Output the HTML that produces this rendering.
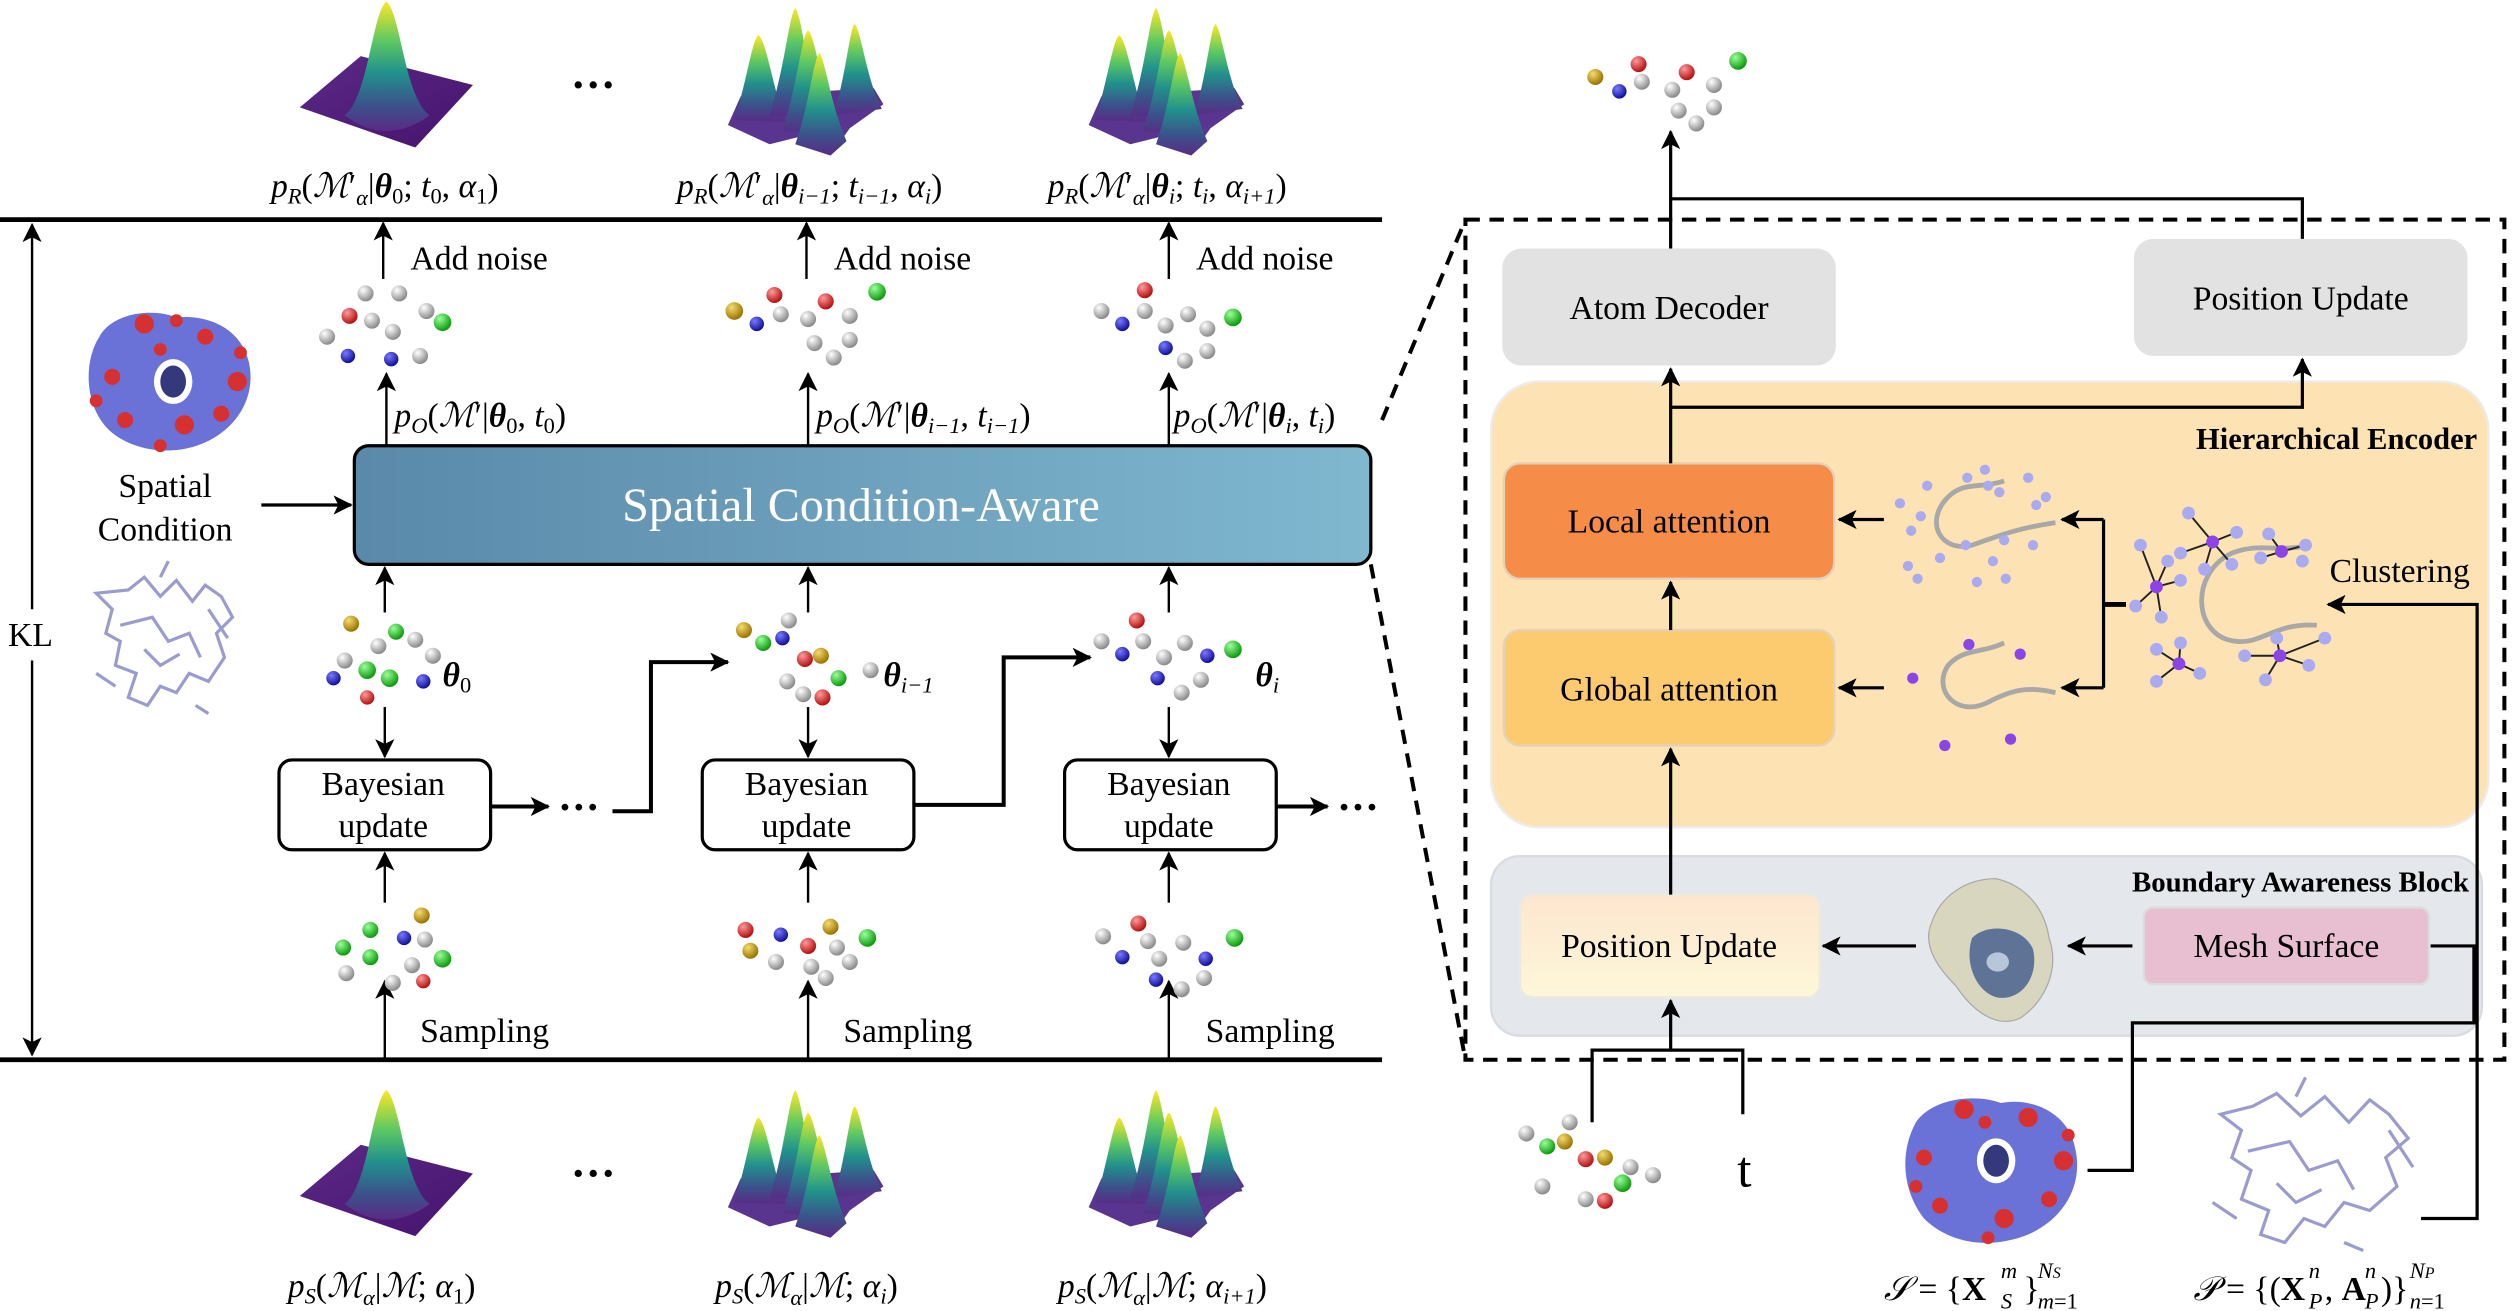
<!DOCTYPE html>
<html><head><meta charset="utf-8"><style>
html,body{margin:0;padding:0;background:#fff;}
svg{display:block;}
text{font-family:"Liberation Serif",serif;fill:#000;}
.m{font-size:21px;}
.s{font-size:14px;}
.l{font-size:21px;}
</style></head><body>
<svg width="2514" height="1311" viewBox="0 0 1568 817.7" preserveAspectRatio="none" xmlns="http://www.w3.org/2000/svg">
<defs>
<marker id="ah" viewBox="0 0 12 12" refX="11" refY="6" markerWidth="12" markerHeight="12" markerUnits="userSpaceOnUse" orient="auto-start-reverse">
<path d="M0,0 L12,6 L0,12 L3,6 Z" fill="#000"/></marker>
<radialGradient id="gG" cx="35%" cy="30%" r="70%"><stop offset="0" stop-color="#fff"/><stop offset="1" stop-color="#8a8a8a"/></radialGradient>
<radialGradient id="gR" cx="35%" cy="30%" r="70%"><stop offset="0" stop-color="#ff9a9a"/><stop offset="1" stop-color="#b51010"/></radialGradient>
<radialGradient id="gB" cx="35%" cy="30%" r="70%"><stop offset="0" stop-color="#7a7aff"/><stop offset="1" stop-color="#10109a"/></radialGradient>
<radialGradient id="gN" cx="35%" cy="30%" r="70%"><stop offset="0" stop-color="#9aff9a"/><stop offset="1" stop-color="#0d9a0d"/></radialGradient>
<radialGradient id="gY" cx="35%" cy="30%" r="70%"><stop offset="0" stop-color="#f5dc70"/><stop offset="1" stop-color="#9a7400"/></radialGradient>
<linearGradient id="pk" x1="0" y1="0" x2="0" y2="1"><stop offset="0" stop-color="#fde725"/><stop offset="0.3" stop-color="#5ec962"/><stop offset="0.55" stop-color="#21918c"/><stop offset="0.8" stop-color="#3b528b"/><stop offset="1" stop-color="#5a2a86"/></linearGradient>
<linearGradient id="bs" x1="0" y1="0" x2="1" y2="1"><stop offset="0" stop-color="#5b2a86"/><stop offset="1" stop-color="#46136e"/></linearGradient>
<linearGradient id="box" x1="0" y1="0" x2="1" y2="0"><stop offset="0" stop-color="#5a89a9"/><stop offset="1" stop-color="#80b8d0"/></linearGradient>
<linearGradient id="pu" x1="0" y1="0" x2="0" y2="1"><stop offset="0" stop-color="#fde6cf"/><stop offset="1" stop-color="#fdf7d8"/></linearGradient>
<g id="single">
<polygon points="187,67 225,35 295,53 259,92" fill="url(#bs)"/>
<path d="M215,72 C230,60 232,8 241,1 C250,8 252,60 268,72 C250,85 232,85 215,72 Z" fill="url(#pk)"/>
</g>
<g id="multi">
<path d="M454,78 L462,60 L545,55 L551,65 L530,80 L518,97 L500,85 L480,90 Z" fill="#5a3590"/>
<path d="M458,75 C466,50 469,25 473,22 C478,25 482,55 490,76 Z" fill="url(#pk)"/>
<path d="M520,72 C528,45 530,18 533,15 C537,18 540,48 550,68 Z" fill="url(#pk)"/>
<path d="M480,72 C490,40 492,10 496,5 C500,10 503,40 510,74 Z" fill="url(#pk)"/>
<path d="M488,82 C498,50 500,22 504,19 C508,22 512,50 522,84 Z" fill="url(#pk)"/>
<path d="M496,90 C505,65 507,38 511,33 C515,38 518,65 528,88 L518,97 Z" fill="url(#pk)"/>
</g>
</defs>

<line x1="0" y1="137" x2="862" y2="137" stroke="#000" stroke-width="3"/>
<line x1="0" y1="661" x2="862" y2="661" stroke="#000" stroke-width="3"/>
<line x1="20" y1="140" x2="20" y2="380" stroke="#000" stroke-width="1.5" marker-start="url(#ah)"/>
<line x1="20" y1="412" x2="20" y2="658" stroke="#000" stroke-width="1.5" marker-end="url(#ah)"/>
<text x="19" y="403" class="l" text-anchor="middle">KL</text>

<use href="#single"/>
<use href="#multi"/>
<use href="#multi" transform="translate(225,0)"/>
<text x="370" y="62" font-size="28" text-anchor="middle" font-weight="bold">···</text>
<use href="#single" transform="translate(0,679)"/>
<use href="#multi" transform="translate(0,675)"/>
<use href="#multi" transform="translate(225,675)"/>
<text x="370" y="741" font-size="28" text-anchor="middle" font-weight="bold">···</text>

<text x="240" y="123" class="m" text-anchor="middle"><tspan font-style="italic">p</tspan><tspan class="s" dy="4" font-style="italic">R</tspan><tspan dy="-4">(</tspan><tspan font-style="italic">ℳ</tspan><tspan>′</tspan><tspan class="s" dy="5" font-style="italic">α</tspan><tspan dy="-5">|</tspan><tspan font-weight="bold" font-style="italic">θ</tspan><tspan class="s" dy="4">0</tspan><tspan dy="-4">; </tspan><tspan font-style="italic">t</tspan><tspan class="s" dy="4">0</tspan><tspan dy="-4">, </tspan><tspan font-style="italic">α</tspan><tspan class="s" dy="4">1</tspan><tspan dy="-4">)</tspan></text>
<text x="505" y="123" class="m" text-anchor="middle"><tspan font-style="italic">p</tspan><tspan class="s" dy="4" font-style="italic">R</tspan><tspan dy="-4">(</tspan><tspan font-style="italic">ℳ</tspan><tspan>′</tspan><tspan class="s" dy="5" font-style="italic">α</tspan><tspan dy="-5">|</tspan><tspan font-weight="bold" font-style="italic">θ</tspan><tspan class="s" dy="4" font-style="italic">i−1</tspan><tspan dy="-4">; </tspan><tspan font-style="italic">t</tspan><tspan class="s" dy="4" font-style="italic">i−1</tspan><tspan dy="-4">, </tspan><tspan font-style="italic">α</tspan><tspan class="s" dy="4" font-style="italic">i</tspan><tspan dy="-4">)</tspan></text>
<text x="728" y="123" class="m" text-anchor="middle"><tspan font-style="italic">p</tspan><tspan class="s" dy="4" font-style="italic">R</tspan><tspan dy="-4">(</tspan><tspan font-style="italic">ℳ</tspan><tspan>′</tspan><tspan class="s" dy="5" font-style="italic">α</tspan><tspan dy="-5">|</tspan><tspan font-weight="bold" font-style="italic">θ</tspan><tspan class="s" dy="4" font-style="italic">i</tspan><tspan dy="-4">; </tspan><tspan font-style="italic">t</tspan><tspan class="s" dy="4" font-style="italic">i</tspan><tspan dy="-4">, </tspan><tspan font-style="italic">α</tspan><tspan class="s" dy="4" font-style="italic">i+1</tspan><tspan dy="-4">)</tspan></text>

<text x="238" y="809" class="m" text-anchor="middle"><tspan font-style="italic">p</tspan><tspan class="s" dy="4" font-style="italic">S</tspan><tspan dy="-4">(</tspan><tspan font-style="italic">ℳ</tspan><tspan class="s" dy="5" font-style="italic">α</tspan><tspan dy="-5">|</tspan><tspan font-style="italic">ℳ</tspan><tspan>; </tspan><tspan font-style="italic">α</tspan><tspan class="s" dy="4">1</tspan><tspan dy="-4">)</tspan></text>
<text x="503" y="809" class="m" text-anchor="middle"><tspan font-style="italic">p</tspan><tspan class="s" dy="4" font-style="italic">S</tspan><tspan dy="-4">(</tspan><tspan font-style="italic">ℳ</tspan><tspan class="s" dy="5" font-style="italic">α</tspan><tspan dy="-5">|</tspan><tspan font-style="italic">ℳ</tspan><tspan>; </tspan><tspan font-style="italic">α</tspan><tspan class="s" dy="4" font-style="italic">i</tspan><tspan dy="-4">)</tspan></text>
<text x="725" y="809" class="m" text-anchor="middle"><tspan font-style="italic">p</tspan><tspan class="s" dy="4" font-style="italic">S</tspan><tspan dy="-4">(</tspan><tspan font-style="italic">ℳ</tspan><tspan class="s" dy="5" font-style="italic">α</tspan><tspan dy="-5">|</tspan><tspan font-style="italic">ℳ</tspan><tspan>; </tspan><tspan font-style="italic">α</tspan><tspan class="s" dy="4" font-style="italic">i+1</tspan><tspan dy="-4">)</tspan></text>

<g stroke="#000" stroke-width="1.5" fill="none">
<line x1="239" y1="174" x2="239" y2="139" marker-end="url(#ah)"/>
<line x1="503" y1="174" x2="503" y2="139" marker-end="url(#ah)"/>
<line x1="729" y1="174" x2="729" y2="139" marker-end="url(#ah)"/>
<line x1="241" y1="278" x2="241" y2="233" marker-end="url(#ah)"/>
<line x1="504" y1="278" x2="504" y2="233" marker-end="url(#ah)"/>
<line x1="729" y1="278" x2="729" y2="233" marker-end="url(#ah)"/>
<line x1="240" y1="382" x2="240" y2="354" marker-end="url(#ah)"/>
<line x1="504" y1="382" x2="504" y2="354" marker-end="url(#ah)"/>
<line x1="729" y1="382" x2="729" y2="354" marker-end="url(#ah)"/>
<line x1="240" y1="441" x2="240" y2="472" marker-end="url(#ah)"/>
<line x1="504" y1="441" x2="504" y2="472" marker-end="url(#ah)"/>
<line x1="729" y1="441" x2="729" y2="472" marker-end="url(#ah)"/>
<line x1="240" y1="563" x2="240" y2="532" marker-end="url(#ah)"/>
<line x1="504" y1="563" x2="504" y2="532" marker-end="url(#ah)"/>
<line x1="729" y1="563" x2="729" y2="532" marker-end="url(#ah)"/>
<line x1="240" y1="660" x2="240" y2="612" marker-end="url(#ah)"/>
<line x1="504" y1="660" x2="504" y2="612" marker-end="url(#ah)"/>
<line x1="729" y1="660" x2="729" y2="612" marker-end="url(#ah)"/>
<line x1="163" y1="315" x2="219" y2="315" stroke-width="2" marker-end="url(#ah)"/>
</g>
<g stroke="#000" stroke-width="2.5" fill="none">
<line x1="306" y1="503" x2="342" y2="503" marker-end="url(#ah)"/>
<polyline points="382,506 406,506 406,413 454,413" marker-end="url(#ah)"/>
<polyline points="570,502 626,502 626,410 680,410" marker-end="url(#ah)"/>
<line x1="796" y1="503" x2="828" y2="503" marker-end="url(#ah)"/>
</g>
<text x="361" y="512" font-size="26" text-anchor="middle" font-weight="bold">···</text>
<text x="847" y="512" font-size="26" text-anchor="middle" font-weight="bold">···</text>

<text x="256" y="168" class="l">Add noise</text>
<text x="520" y="168" class="l">Add noise</text>
<text x="746" y="168" class="l">Add noise</text>
<text x="262" y="650" class="l">Sampling</text>
<text x="526" y="650" class="l">Sampling</text>
<text x="752" y="650" class="l">Sampling</text>

<text x="246" y="266" class="m"><tspan font-style="italic">p</tspan><tspan class="s" dy="4" font-style="italic">O</tspan><tspan dy="-4">(</tspan><tspan font-style="italic">ℳ</tspan><tspan>′|</tspan><tspan font-weight="bold" font-style="italic">θ</tspan><tspan class="s" dy="4">0</tspan><tspan dy="-4">, </tspan><tspan font-style="italic">t</tspan><tspan class="s" dy="4">0</tspan><tspan dy="-4">)</tspan></text>
<text x="509" y="266" class="m"><tspan font-style="italic">p</tspan><tspan class="s" dy="4" font-style="italic">O</tspan><tspan dy="-4">(</tspan><tspan font-style="italic">ℳ</tspan><tspan>′|</tspan><tspan font-weight="bold" font-style="italic">θ</tspan><tspan class="s" dy="4" font-style="italic">i−1</tspan><tspan dy="-4">, </tspan><tspan font-style="italic">t</tspan><tspan class="s" dy="4" font-style="italic">i−1</tspan><tspan dy="-4">)</tspan></text>
<text x="732" y="266" class="m"><tspan font-style="italic">p</tspan><tspan class="s" dy="4" font-style="italic">O</tspan><tspan dy="-4">(</tspan><tspan font-style="italic">ℳ</tspan><tspan>′|</tspan><tspan font-weight="bold" font-style="italic">θ</tspan><tspan class="s" dy="4" font-style="italic">i</tspan><tspan dy="-4">, </tspan><tspan font-style="italic">t</tspan><tspan class="s" dy="4" font-style="italic">i</tspan><tspan dy="-4">)</tspan></text>

<text x="276" y="428" class="m" font-weight="bold" font-style="italic">θ<tspan class="s" dy="4" font-weight="normal" font-style="normal">0</tspan></text>
<text x="551" y="428" class="m" font-weight="bold" font-style="italic">θ<tspan class="s" dy="4" font-weight="normal">i−1</tspan></text>
<text x="783" y="428" class="m" font-weight="bold" font-style="italic">θ<tspan class="s" dy="4" font-weight="normal">i</tspan></text>

<rect x="221" y="278" width="634" height="74" rx="9" fill="url(#box)" stroke="#000" stroke-width="2"/>
<text x="537" y="325" font-size="30" text-anchor="middle" style="fill:#fff">Spatial Condition-Aware</text>

<g fill="#fff" stroke="#000" stroke-width="2">
<rect x="174" y="474" width="132" height="56" rx="8"/>
<rect x="438" y="474" width="132" height="56" rx="8"/>
<rect x="664" y="474" width="132" height="56" rx="8"/>
</g>
<text x="239" y="496" class="l" text-anchor="middle">Bayesian</text><text x="239" y="522" class="l" text-anchor="middle">update</text>
<text x="503" y="496" class="l" text-anchor="middle">Bayesian</text><text x="503" y="522" class="l" text-anchor="middle">update</text>
<text x="729" y="496" class="l" text-anchor="middle">Bayesian</text><text x="729" y="522" class="l" text-anchor="middle">update</text>

<text x="103" y="310" class="l" text-anchor="middle">Spatial</text>
<text x="103" y="337" class="l" text-anchor="middle">Condition</text>
<g>
<path d="M62,210 C70,195 95,192 110,198 C130,196 150,205 155,225 C160,245 150,265 130,275 C110,285 85,282 70,270 C52,255 52,225 62,210 Z" fill="#6a72d8"/>
<ellipse cx="108" cy="238" rx="12" ry="14" fill="#fff"/>
<ellipse cx="108" cy="238" rx="8" ry="10" fill="#33397a"/>
<g fill="#d63030"><circle cx="90" cy="202" r="6"/><circle cx="128" cy="210" r="5"/><circle cx="148" cy="238" r="6"/><circle cx="70" cy="235" r="5"/><circle cx="115" cy="265" r="6"/><circle cx="78" cy="262" r="5"/><circle cx="138" cy="258" r="5"/><circle cx="100" cy="218" r="4"/><circle cx="60" cy="250" r="4"/><circle cx="150" cy="220" r="4"/><circle cx="100" cy="278" r="4"/><circle cx="110" cy="200" r="4"/></g>
</g>
<g stroke="#9a9ccf" stroke-width="2" fill="none">
<path d="M60,370 L70,380 L66,395 L75,400 L72,415 L85,420 L80,435 L92,440 L100,428 L110,432 L118,420 L130,425 L140,410 L135,395 L145,385 L138,372 L128,365 L120,375 L110,362 L100,372 L90,360 L80,368 Z"/>
<path d="M75,390 L95,385 L105,400 L118,395 L125,410 M90,405 L100,415 L112,408 M60,420 L72,428 M130,380 L142,398 M100,360 L105,350 M122,440 L130,445"/>
</g>

<g>
<circle cx="228" cy="183" r="5" fill="url(#gG)"/><circle cx="249" cy="183" r="5" fill="url(#gG)"/><circle cx="218" cy="197" r="5" fill="url(#gR)"/><circle cx="232" cy="200" r="5" fill="url(#gG)"/><circle cx="266" cy="194" r="5" fill="url(#gG)"/><circle cx="276" cy="201" r="5.5" fill="url(#gN)"/><circle cx="245" cy="207" r="5" fill="url(#gG)"/><circle cx="204" cy="210" r="5" fill="url(#gG)"/><circle cx="217" cy="222" r="4.5" fill="url(#gB)"/><circle cx="244" cy="224" r="4.5" fill="url(#gB)"/><circle cx="262" cy="222" r="5" fill="url(#gG)"/>
<circle cx="458" cy="194" r="5.5" fill="url(#gY)"/><circle cx="483" cy="184" r="5" fill="url(#gR)"/><circle cx="472" cy="202" r="4.5" fill="url(#gB)"/><circle cx="487" cy="196" r="5" fill="url(#gG)"/><circle cx="515" cy="188" r="5" fill="url(#gR)"/><circle cx="547" cy="182" r="5.5" fill="url(#gN)"/><circle cx="504" cy="199" r="5" fill="url(#gG)"/><circle cx="530" cy="197" r="5" fill="url(#gG)"/><circle cx="508" cy="214" r="5" fill="url(#gG)"/><circle cx="530" cy="212" r="5" fill="url(#gG)"/><circle cx="520" cy="223" r="5" fill="url(#gG)"/>
<circle cx="714" cy="181" r="5" fill="url(#gR)"/><circle cx="687" cy="194" r="5" fill="url(#gG)"/><circle cx="700" cy="202" r="4.5" fill="url(#gB)"/><circle cx="714" cy="194" r="5" fill="url(#gG)"/><circle cx="727" cy="203" r="5" fill="url(#gG)"/><circle cx="741" cy="196" r="5" fill="url(#gG)"/><circle cx="753" cy="205" r="5" fill="url(#gG)"/><circle cx="769" cy="198" r="5.5" fill="url(#gN)"/><circle cx="727" cy="217" r="4.5" fill="url(#gB)"/><circle cx="739" cy="225" r="5" fill="url(#gG)"/><circle cx="753" cy="219" r="5" fill="url(#gG)"/>
<circle cx="219" cy="389" r="5" fill="url(#gY)"/><circle cx="247" cy="394" r="5" fill="url(#gN)"/><circle cx="236" cy="403" r="5" fill="url(#gG)"/><circle cx="259" cy="399" r="5" fill="url(#gG)"/><circle cx="215" cy="412" r="5" fill="url(#gG)"/><circle cx="229" cy="418" r="5.5" fill="url(#gN)"/><circle cx="270" cy="409" r="5" fill="url(#gG)"/><circle cx="208" cy="423" r="4.5" fill="url(#gB)"/><circle cx="243" cy="423" r="5.5" fill="url(#gN)"/><circle cx="264" cy="425" r="4.5" fill="url(#gB)"/><circle cx="229" cy="435" r="4.5" fill="url(#gR)"/>
<circle cx="464" cy="393" r="5" fill="url(#gY)"/><circle cx="492" cy="387" r="5" fill="url(#gG)"/><circle cx="476" cy="401" r="5" fill="url(#gN)"/><circle cx="488" cy="398" r="4.5" fill="url(#gB)"/><circle cx="502" cy="411" r="5" fill="url(#gR)"/><circle cx="512" cy="409" r="5" fill="url(#gY)"/><circle cx="523" cy="423" r="5" fill="url(#gN)"/><circle cx="491" cy="425" r="5" fill="url(#gG)"/><circle cx="543" cy="418" r="5" fill="url(#gG)"/><circle cx="501" cy="433" r="5" fill="url(#gG)"/><circle cx="513" cy="435" r="5" fill="url(#gR)"/>
<circle cx="709" cy="387" r="5" fill="url(#gR)"/><circle cx="687" cy="400" r="5" fill="url(#gG)"/><circle cx="713" cy="400" r="5" fill="url(#gG)"/><circle cx="739" cy="401" r="5" fill="url(#gG)"/><circle cx="700" cy="408" r="4.5" fill="url(#gB)"/><circle cx="726" cy="410" r="5" fill="url(#gG)"/><circle cx="753" cy="409" r="4.5" fill="url(#gB)"/><circle cx="769" cy="405" r="5.5" fill="url(#gN)"/><circle cx="722" cy="423" r="4.5" fill="url(#gB)"/><circle cx="749" cy="424" r="5" fill="url(#gG)"/><circle cx="737" cy="432" r="5" fill="url(#gG)"/>
<circle cx="263" cy="571" r="5" fill="url(#gY)"/><circle cx="231" cy="580" r="5" fill="url(#gN)"/><circle cx="252" cy="585" r="4.5" fill="url(#gB)"/><circle cx="265" cy="586" r="5" fill="url(#gG)"/><circle cx="214" cy="591" r="5" fill="url(#gN)"/><circle cx="231" cy="597" r="5" fill="url(#gN)"/><circle cx="276" cy="598" r="5.5" fill="url(#gN)"/><circle cx="257" cy="602" r="5" fill="url(#gG)"/><circle cx="216" cy="607" r="5" fill="url(#gG)"/><circle cx="245" cy="613" r="5" fill="url(#gG)"/><circle cx="264" cy="612" r="4.5" fill="url(#gR)"/>
<circle cx="465" cy="580" r="5" fill="url(#gR)"/><circle cx="487" cy="583" r="4.5" fill="url(#gB)"/><circle cx="518" cy="578" r="5" fill="url(#gY)"/><circle cx="541" cy="585" r="5.5" fill="url(#gN)"/><circle cx="468" cy="593" r="5" fill="url(#gY)"/><circle cx="504" cy="590" r="5" fill="url(#gR)"/><circle cx="522" cy="591" r="5" fill="url(#gG)"/><circle cx="484" cy="600" r="5" fill="url(#gG)"/><circle cx="506" cy="603" r="5" fill="url(#gG)"/><circle cx="530" cy="600" r="5" fill="url(#gG)"/><circle cx="515" cy="610" r="5" fill="url(#gG)"/>
<circle cx="710" cy="576" r="5" fill="url(#gR)"/><circle cx="688" cy="584" r="5" fill="url(#gG)"/><circle cx="716" cy="587" r="5" fill="url(#gG)"/><circle cx="738" cy="588" r="5" fill="url(#gG)"/><circle cx="700" cy="597" r="4.5" fill="url(#gB)"/><circle cx="723" cy="598" r="5" fill="url(#gG)"/><circle cx="752" cy="598" r="4.5" fill="url(#gB)"/><circle cx="770" cy="585" r="5.5" fill="url(#gN)"/><circle cx="721" cy="611" r="4.5" fill="url(#gB)"/><circle cx="751" cy="610" r="5" fill="url(#gG)"/><circle cx="737" cy="617" r="5" fill="url(#gG)"/>
<circle cx="995" cy="48" r="5" fill="url(#gY)"/><circle cx="1022" cy="40" r="5" fill="url(#gR)"/><circle cx="1010" cy="57" r="4.5" fill="url(#gB)"/><circle cx="1024" cy="51" r="5" fill="url(#gG)"/><circle cx="1052" cy="45" r="5" fill="url(#gR)"/><circle cx="1084" cy="38" r="5.5" fill="url(#gN)"/><circle cx="1043" cy="56" r="5" fill="url(#gG)"/><circle cx="1069" cy="53" r="5" fill="url(#gG)"/><circle cx="1047" cy="69" r="5" fill="url(#gG)"/><circle cx="1069" cy="67" r="5" fill="url(#gG)"/><circle cx="1058" cy="77" r="5" fill="url(#gG)"/>
<circle cx="979" cy="700" r="5" fill="url(#gG)"/><circle cx="952" cy="707" r="5" fill="url(#gG)"/><circle cx="965" cy="715" r="5" fill="url(#gN)"/><circle cx="976" cy="712" r="5" fill="url(#gY)"/><circle cx="989" cy="723" r="5" fill="url(#gR)"/><circle cx="1001" cy="722" r="5" fill="url(#gY)"/><circle cx="1017" cy="728" r="5" fill="url(#gG)"/><circle cx="1012" cy="738" r="5.5" fill="url(#gN)"/><circle cx="1031" cy="733" r="5" fill="url(#gG)"/><circle cx="962" cy="740" r="5" fill="url(#gG)"/><circle cx="989" cy="748" r="5" fill="url(#gG)"/><circle cx="1001" cy="749" r="5" fill="url(#gR)"/>
</g>

<g stroke="#000" stroke-width="2.5" stroke-dasharray="9,6" fill="none">
<rect x="914" y="137" width="648" height="524"/>
<line x1="862" y1="262" x2="914" y2="137"/>
<line x1="855" y1="352" x2="914" y2="661"/>
</g>
<rect x="930" y="238" width="622" height="278" rx="30" fill="#fde3b3" stroke="#ececec" stroke-width="1.5"/>
<rect x="930" y="534" width="618" height="112" rx="18" fill="#e4e8ed" stroke="#d8dce2" stroke-width="1.5"/>
<rect x="937" y="155" width="208" height="73" rx="12" fill="#e2e2e2"/>
<rect x="1331" y="149" width="208" height="73" rx="12" fill="#e2e2e2"/>
<rect x="938" y="289" width="206" height="72" rx="10" fill="#f58c48" stroke="#e4d2b8" stroke-width="1.5"/>
<rect x="938" y="393" width="206" height="72" rx="10" fill="#fccb70" stroke="#e4d2b8" stroke-width="1.5"/>
<rect x="948" y="558" width="187" height="64" rx="8" fill="url(#pu)" stroke="#eceae0" stroke-width="1.5"/>
<rect x="1337" y="566" width="178" height="48" rx="6" fill="#e7bfd1" stroke="#ddd" stroke-width="1.5"/>

<text x="1041" y="199" class="l" text-anchor="middle">Atom Decoder</text>
<text x="1435" y="193" class="l" text-anchor="middle">Position Update</text>
<text x="1041" y="332" class="l" text-anchor="middle">Local attention</text>
<text x="1041" y="437" class="l" text-anchor="middle">Global attention</text>
<text x="1041" y="597" class="l" text-anchor="middle">Position Update</text>
<text x="1426" y="597" class="l" text-anchor="middle">Mesh Surface</text>
<text x="1453" y="363" class="l">Clustering</text>
<text x="1545" y="280" font-size="19" font-weight="bold" text-anchor="end">Hierarchical Encoder</text>
<text x="1540" y="556" font-size="18" font-weight="bold" text-anchor="end">Boundary Awareness Block</text>

<g stroke="#000" stroke-width="2" fill="none">
<line x1="1042" y1="155" x2="1042" y2="82" marker-end="url(#ah)"/>
<polyline points="1436,149 1436,124 1042,124"/>
<line x1="1042" y1="289" x2="1042" y2="230" marker-end="url(#ah)"/>
<polyline points="1042,254 1436,254 1436,224" marker-end="url(#ah)"/>
<line x1="1042" y1="393" x2="1042" y2="363" marker-end="url(#ah)"/>
<line x1="1042" y1="558" x2="1042" y2="467" marker-end="url(#ah)"/>
<line x1="1042" y1="655" x2="1042" y2="624" marker-end="url(#ah)"/>
<polyline points="993,700 993,655 1087,655 1087,695"/>
<line x1="1175" y1="324" x2="1147" y2="324" marker-end="url(#ah)"/>
<line x1="1175" y1="429" x2="1147" y2="429" marker-end="url(#ah)"/>
<polyline points="1312,324 1312,429"/>
<line x1="1312" y1="324" x2="1286" y2="324" marker-end="url(#ah)"/>
<line x1="1312" y1="429" x2="1286" y2="429" marker-end="url(#ah)"/>
<line x1="1312" y1="377" x2="1326" y2="377" stroke-width="3"/>
<polyline points="1510,760 1545,760 1545,377 1452,377" marker-end="url(#ah)"/>
<line x1="1330" y1="590" x2="1290" y2="590" marker-end="url(#ah)"/>
<line x1="1195" y1="590" x2="1137" y2="590" marker-end="url(#ah)"/>
<polyline points="1516,590 1543,590 1543,638 1330,638 1330,730 1302,730"/>
</g>
<text x="1088" y="740" font-size="32" font-family="Liberation Sans" text-anchor="middle">t</text>

<g stroke="#a8a8a8" stroke-width="3" fill="none">
<path d="M1250,300 C1235,305 1225,300 1215,310 C1200,325 1210,345 1230,340 C1245,335 1255,330 1282,326"/>
<path d="M1250,401 C1235,408 1225,404 1215,415 C1205,430 1220,448 1240,438 C1255,430 1265,428 1282,432"/>
<path d="M1440,340 C1420,345 1410,338 1392,345 C1365,358 1368,398 1395,400 C1410,402 1420,388 1445,390"/>
</g>
<g fill="#a9aaf0">
<circle cx="1202" cy="303" r="3.2"/><circle cx="1227" cy="298" r="3.2"/><circle cx="1238" cy="293" r="3.2"/><circle cx="1247" cy="307" r="3.2"/><circle cx="1265" cy="298" r="3.2"/><circle cx="1276" cy="310" r="3.2"/><circle cx="1270" cy="315" r="3.2"/><circle cx="1198" cy="322" r="3.2"/><circle cx="1192" cy="331" r="3.2"/><circle cx="1185" cy="314" r="3.2"/><circle cx="1190" cy="353" r="3.2"/><circle cx="1210" cy="348" r="3.2"/><circle cx="1226" cy="340" r="3.2"/><circle cx="1243" cy="350" r="3.2"/><circle cx="1250" cy="337" r="3.2"/><circle cx="1268" cy="340" r="3.2"/><circle cx="1233" cy="363" r="3.2"/><circle cx="1251" cy="361" r="3.2"/><circle cx="1196" cy="361" r="3.2"/><circle cx="1240" cy="303" r="3.2"/>
</g>
<g fill="#8a44e8"><circle cx="1228" cy="402" r="3.5"/><circle cx="1260" cy="408" r="3.5"/><circle cx="1193" cy="423" r="3.5"/><circle cx="1213" cy="465" r="3.5"/><circle cx="1254" cy="461" r="3.5"/></g>
<g stroke="#222" stroke-width="1.2">
<path d="M1345,366 L1335,340 M1345,366 L1332,378 M1345,366 L1360,362 M1345,366 L1348,385 M1345,366 L1352,350"/>
<path d="M1380,338 L1360,345 M1380,338 L1365,320 M1380,338 L1395,332 M1380,338 L1392,352 M1380,338 L1375,355"/>
<path d="M1423,344 L1410,348 M1423,344 L1415,333 M1423,344 L1438,340"/>
<path d="M1359,414 L1345,405 M1359,414 L1345,425 M1359,414 L1372,420 M1359,414 L1360,401"/>
<path d="M1422,409 L1400,409 M1422,409 L1450,398 M1422,409 L1440,415 M1422,409 L1420,398 M1422,409 L1413,424"/>
</g>
<g fill="#a9aaf0">
<circle cx="1335" cy="340" r="4"/><circle cx="1332" cy="378" r="4"/><circle cx="1360" cy="362" r="4"/><circle cx="1348" cy="385" r="4"/><circle cx="1352" cy="350" r="4"/>
<circle cx="1360" cy="345" r="4"/><circle cx="1365" cy="320" r="4"/><circle cx="1395" cy="332" r="4"/><circle cx="1392" cy="352" r="4"/><circle cx="1375" cy="355" r="4"/>
<circle cx="1410" cy="348" r="4"/><circle cx="1415" cy="333" r="4"/><circle cx="1438" cy="340" r="4"/><circle cx="1436" cy="350" r="4"/>
<circle cx="1345" cy="405" r="4"/><circle cx="1345" cy="425" r="4"/><circle cx="1372" cy="420" r="4"/><circle cx="1360" cy="401" r="4"/>
<circle cx="1400" cy="409" r="4"/><circle cx="1450" cy="398" r="4"/><circle cx="1440" cy="415" r="4"/><circle cx="1420" cy="398" r="4"/><circle cx="1413" cy="424" r="4"/>
</g>
<g fill="#8a44e8"><circle cx="1345" cy="366" r="4"/><circle cx="1380" cy="338" r="4"/><circle cx="1423" cy="344" r="4"/><circle cx="1359" cy="414" r="4"/><circle cx="1422" cy="409" r="4"/></g>

<g>
<path d="M1205,575 C1210,560 1225,548 1245,548 C1262,552 1275,565 1278,585 C1285,605 1275,625 1260,635 C1245,642 1230,630 1220,615 C1210,605 1198,590 1205,575 Z" fill="#d9d6bf" stroke="#aaa" stroke-width="0.8"/>
<path d="M1230,585 C1240,575 1262,578 1268,592 C1272,610 1260,625 1245,622 C1232,618 1225,600 1230,585 Z" fill="#5f7396"/>
<ellipse cx="1246" cy="600" rx="7" ry="6" fill="#b8c6d9"/>
<path d="M1200,572 C1205,580 1212,600 1222,612 L1214,600 Z" fill="#f0e08a"/>
</g>

<g>
<path d="M1195,700 C1205,685 1232,682 1248,688 C1268,684 1290,695 1294,715 C1300,738 1288,760 1265,770 C1240,780 1215,775 1200,760 C1186,742 1185,718 1195,700 Z" fill="#6a72d8"/>
<ellipse cx="1245" cy="724" rx="12" ry="14" fill="#fff"/>
<ellipse cx="1245" cy="724" rx="8" ry="10" fill="#33397a"/>
<g fill="#d63030"><circle cx="1225" cy="692" r="6"/><circle cx="1265" cy="697" r="6"/><circle cx="1287" cy="724" r="6"/><circle cx="1200" cy="722" r="5"/><circle cx="1250" cy="760" r="6"/><circle cx="1210" cy="752" r="5"/><circle cx="1278" cy="748" r="5"/><circle cx="1238" cy="700" r="4"/><circle cx="1195" cy="740" r="4"/><circle cx="1290" cy="708" r="4"/><circle cx="1240" cy="772" r="4"/></g>
</g>
<g stroke="#9a9ccf" stroke-width="2" fill="none">
<path d="M1385,695 L1398,705 L1392,722 L1404,730 L1398,748 L1415,755 L1410,770 L1425,775 L1437,760 L1450,765 L1462,750 L1478,755 L1495,740 L1488,722 L1502,710 L1490,695 L1478,686 L1465,700 L1450,684 L1435,696 L1420,682 L1405,690 Z"/>
<path d="M1402,718 L1428,712 L1440,730 L1458,724 L1468,742 M1420,738 L1432,750 L1448,742 M1380,750 L1395,760 M1490,705 L1505,728 M1432,684 L1438,672 M1462,775 L1474,780"/>
</g>

<!-- S label -->
<text x="1175" y="811" class="m"><tspan font-style="italic">𝒮</tspan> = {<tspan font-weight="bold">X</tspan></text>
<text x="1248" y="797" class="s" font-style="italic">m</text>
<text x="1248" y="816" class="s" font-style="italic">S</text>
<text x="1262" y="811" class="m">}</text>
<text x="1271" y="797" class="s" font-style="italic">N<tspan font-size="10">S</tspan></text>
<text x="1271" y="816" class="s"><tspan font-style="italic">m</tspan>=1</text>
<!-- P label -->
<text x="1368" y="811" class="m"><tspan font-style="italic">𝒫</tspan> = {(<tspan font-weight="bold">X</tspan></text>
<text x="1440" y="797" class="s" font-style="italic">n</text>
<text x="1440" y="816" class="s" font-style="italic">P</text>
<text x="1450" y="811" class="m">, <tspan font-weight="bold">A</tspan></text>
<text x="1475" y="797" class="s" font-style="italic">n</text>
<text x="1475" y="816" class="s" font-style="italic">P</text>
<text x="1485" y="811" class="m">)}</text>
<text x="1503" y="797" class="s" font-style="italic">N<tspan font-size="10">P</tspan></text>
<text x="1503" y="816" class="s"><tspan font-style="italic">n</tspan>=1</text>
</svg>
</body></html>
